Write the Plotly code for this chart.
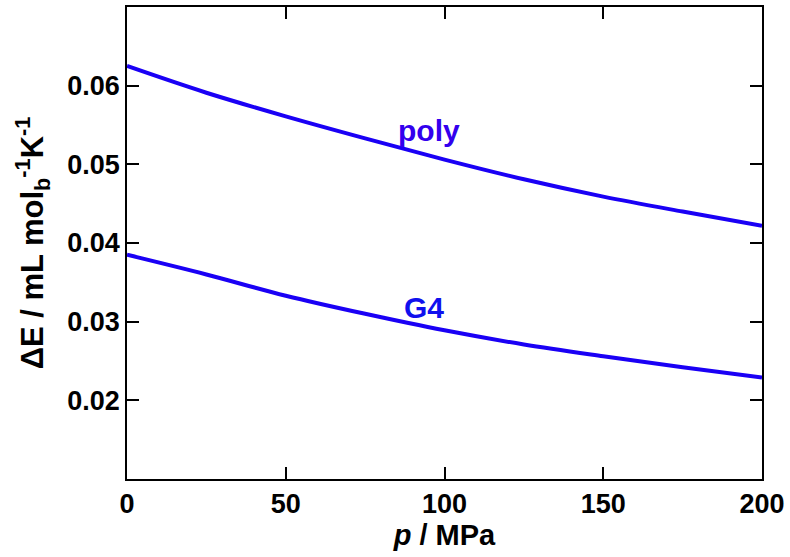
import plotly.graph_objects as go

p_vals = [0, 25, 50, 75, 100, 125, 150, 175, 200]
poly_vals = [0.0625, 0.0591, 0.0561, 0.0533, 0.0506, 0.0481, 0.0459, 0.0440, 0.0422]
g4_vals = [0.0385, 0.0360, 0.0333, 0.0310, 0.0289, 0.0271, 0.0256, 0.0242, 0.0229]

x_ticks = [0, 50, 100, 150, 200]
y_ticks = [0.02, 0.03, 0.04, 0.05, 0.06]
y_tick_text = ["0.02", "0.03", "0.04", "0.05", "0.06"]

label_poly = ("poly", 95.0, 0.0543)
label_g4 = ("G4", 93.6, 0.0318)

line_color = "#1a00f5"
font_family = "Liberation Sans, Arial, sans-serif"

fig = go.Figure()
fig.add_trace(go.Scatter(x=p_vals, y=poly_vals, mode="lines",
                         line=dict(color=line_color, width=4, shape="spline"),
                         showlegend=False))
fig.add_trace(go.Scatter(x=p_vals, y=g4_vals, mode="lines",
                         line=dict(color=line_color, width=4, shape="spline"),
                         showlegend=False))

fig.add_annotation(x=label_poly[1], y=label_poly[2], text="<b>" + label_poly[0] + "</b>", showarrow=False,
                   font=dict(family=font_family, size=30, color="#3300ee"))
fig.add_annotation(x=label_g4[1], y=label_g4[2], text="<b>" + label_g4[0] + "</b>", showarrow=False,
                   font=dict(family=font_family, size=30, color="#1010ee"))

axis_common = dict(showline=True, linecolor="black", linewidth=1.5, mirror="ticks",
                   ticks="inside", ticklen=12, tickwidth=1.5, tickcolor="black",
                   showgrid=False, zeroline=False,
                   tickfont=dict(family=font_family, size=27, color="black"))

fig.update_xaxes(range=[0, 200], tickvals=x_ticks, ticktext=[f"<b>{t}</b>" for t in x_ticks],
                 title=dict(text="<b><i>p</i> / MPa</b>", standoff=6,
                            font=dict(family=font_family, size=29, color="black")),
                 **axis_common)
fig.update_yaxes(range=[0.01, 0.07], tickvals=y_ticks, ticktext=[f"<b>{t}</b>" for t in y_tick_text],
                 title=dict(text="<b>ΔE / mL mol<sub>b</sub><sup>-1</sup>K<sup>-1</sup></b>", standoff=14,
                            font=dict(family=font_family, size=31, color="black")),
                 **axis_common)

fig.update_layout(width=790, height=557, margin=dict(l=127, r=26, t=5, b=78),
                  plot_bgcolor="white", paper_bgcolor="white",
                  font=dict(family=font_family))

fig.write_html("out.html")
